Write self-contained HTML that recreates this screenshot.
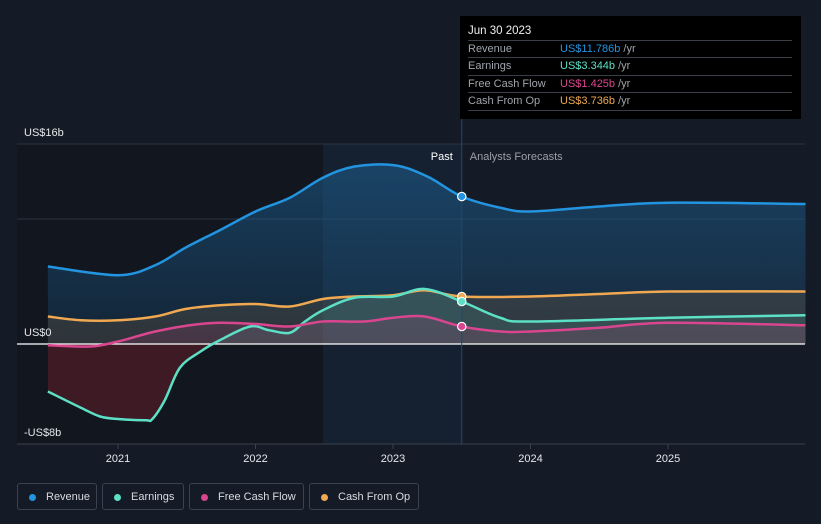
<!DOCTYPE html>
<html><head><meta charset="utf-8"><style>
body{margin:0;background:#151b26;font-family:"Liberation Sans",sans-serif;}
#wrap{position:relative;width:821px;height:524px;overflow:hidden;background:#151b26}
.tt{position:absolute;left:460px;top:16px;width:341px;height:103px;background:#000;color:#f0f0f0;font-size:11px}
.tt .h{position:absolute;left:8px;top:9px;font-size:11.5px}
.row{position:absolute;left:8px;width:324px;height:17px;border-top:1px solid #3a3f47;color:#a0a4ab;line-height:17px}
.row span.v{position:absolute;left:92px}
.row span.u{color:#a0a4ab}
.leg{position:absolute;top:483px;height:27px;border:1px solid #3a4150;border-radius:3px;color:#d8dbe0;font-size:11px;line-height:27px;box-sizing:border-box}
.leg i{position:absolute;left:11px;top:10px;width:7px;height:7px;border-radius:50%}
.leg span{position:absolute;left:28px}
</style></head><body>
<div id="wrap">
<svg id="chart" width="821" height="524" style="position:absolute;left:0;top:0"></svg>
<div class="tt">
 <div class="h">Jun 30 2023</div>
 <div class="row" style="top:24px">Revenue<span class="v"><span style="color:#2394df">US$11.786b</span> <span class="u">/yr</span></span></div>
 <div class="row" style="top:41px">Earnings<span class="v"><span style="color:#5ce0c6">US$3.344b</span> <span class="u">/yr</span></span></div>
 <div class="row" style="top:59px">Free Cash Flow<span class="v"><span style="color:#d9468f">US$1.425b</span> <span class="u">/yr</span></span></div>
 <div class="row" style="top:76px;border-bottom:1px solid #3a3f47">Cash From Op<span class="v"><span style="color:#f0a851">US$3.736b</span> <span class="u">/yr</span></span></div>
</div>
<div class="leg" style="left:17px;width:80px"><i style="background:#2394df"></i><span>Revenue</span></div>
<div class="leg" style="left:102px;width:82px"><i style="background:#5ce0c6"></i><span>Earnings</span></div>
<div class="leg" style="left:189px;width:115px"><i style="background:#d9468f"></i><span>Free Cash Flow</span></div>
<div class="leg" style="left:309px;width:110px"><i style="background:#f0a851"></i><span>Cash From Op</span></div>
</div>
<script>
const revT=[2020.49,2021,2021.27,2021.49,2021.74,2022,2022.25,2022.49,2022.72,2023.01,2023.25,2023.5,2023.78,2024,2024.5,2025,2026];
const revV=[6.2,5.5,6.3,7.7,9.1,10.6,11.7,13.3,14.2,14.3,13.4,11.8,10.9,10.6,11.0,11.3,11.2];
const earnT=[2020.49,2020.73,2020.87,2021,2021.2,2021.25,2021.34,2021.45,2021.6,2021.74,2021.96,2022.1,2022.25,2022.36,2022.49,2022.72,2023,2023.23,2023.5,2023.78,2024,2025,2026];
const earnV=[-3.8,-5.1,-5.8,-6.0,-6.1,-6.0,-4.5,-1.9,-0.6,0.3,1.4,1.1,0.9,1.8,2.7,3.7,3.8,4.4,3.4,2.1,1.8,2.1,2.3];
const fcfT=[2020.49,2020.8,2021,2021.27,2021.52,2021.74,2022,2022.25,2022.49,2022.79,2023,2023.23,2023.5,2023.78,2024,2024.5,2025,2026];
const fcfV=[-0.1,-0.2,0.2,1.0,1.5,1.7,1.6,1.4,1.8,1.8,2.1,2.2,1.4,1.0,1.0,1.3,1.7,1.5];
const cfoT=[2020.49,2020.73,2021,2021.27,2021.49,2021.74,2022,2022.25,2022.49,2022.72,2023,2023.23,2023.5,2024,2024.5,2025,2026];
const cfoV=[2.2,1.9,1.9,2.2,2.8,3.1,3.2,3.0,3.6,3.8,3.9,4.3,3.8,3.8,4.0,4.2,4.2];
const yTicks=[16,0,-8];
const yLabels=["US$16b","US$0","-US$8b"];
const xTicks=[2021,2022,2023,2024,2025];
const NOW=2023.5;
const X=t=>118+(t-2021)*137.5;
const Y=v=>344-v*12.5;
const NS="http://www.w3.org/2000/svg";
const svg=document.getElementById('chart');
function mk(tag,attrs,parent){const e=document.createElementNS(NS,tag);for(const k in attrs)e.setAttribute(k,attrs[k]);(parent||svg).appendChild(e);return e;}
svg.innerHTML='<defs><linearGradient id="gb" x1="0" y1="0" x2="0" y2="1"><stop offset="0" stop-color="#1d5f91" stop-opacity="0.55"/><stop offset="1" stop-color="#1d5f91" stop-opacity="0.2"/></linearGradient><clipPath id="above"><rect x="0" y="0" width="821" height="'+Y(0)+'"/></clipPath><clipPath id="below"><rect x="0" y="'+Y(0)+'" width="821" height="200"/></clipPath></defs>';
const past=mk('rect',{x:17,y:144,width:306,height:300,fill:'#11161f'});


const band=mk('rect',{x:323,y:144,width:X(NOW)-323,height:300,fill:'#152130'});


function path(T,V){const p=T.map((t,i)=>[X(t),Y(V[i])]);let d='M'+p[0][0]+','+p[0][1];
for(let i=0;i<p.length-1;i++){const p0=p[i-1]||p[i],p1=p[i],p2=p[i+1],p3=p[i+2]||p2;
d+=' C'+(p1[0]+(p2[0]-p0[0])/6)+','+(p1[1]+(p2[1]-p0[1])/6)+' '+(p2[0]-(p3[0]-p1[0])/6)+','+(p2[1]-(p3[1]-p1[1])/6)+' '+p2[0]+','+p2[1];}return d;}
function area(T,V){return path(T,V)+' L'+X(T[T.length-1])+','+Y(0)+' L'+X(T[0])+','+Y(0)+' Z';}
[16,10].forEach(v=>{const g=mk('line',{x1:17,x2:805,y1:Y(v),y2:Y(v),stroke:'#2c3340','stroke-width':1});

});
const series=[
 {T:revT,V:revV,c:'#2394df',fill:'url(#gb)',neg:'rgba(35,148,223,0.1)',n:'revenue'},
 {T:cfoT,V:cfoV,c:'#f0a851',fill:'rgba(240,168,81,0.12)',neg:'rgba(130,35,45,0.35)',n:'cash-from-op'},
 {T:earnT,V:earnV,c:'#5ce0c6',fill:'rgba(92,224,198,0.12)',neg:'rgba(130,35,45,0.4)',n:'earnings'},
 {T:fcfT,V:fcfV,c:'#d9468f',fill:'rgba(217,70,143,0.14)',neg:'rgba(130,35,45,0.35)',n:'free-cash-flow'}];
series.forEach(s=>{const a=mk('path',{d:area(s.T,s.V),fill:s.fill,stroke:'none','clip-path':'url(#above)'});


const b=mk('path',{d:area(s.T,s.V),fill:s.neg,stroke:'none','clip-path':'url(#below)'});

});
const zl=mk('line',{x1:17,x2:805,y1:Y(0),y2:Y(0),stroke:'#ffffff','stroke-width':1.2});


const ax=mk('line',{x1:17,x2:805,y1:Y(-8),y2:Y(-8),stroke:'#3a404c','stroke-width':1});


const nl=mk('line',{x1:X(NOW),x2:X(NOW),y1:16,y2:444,stroke:'#1e4a6a','stroke-width':1});


series.forEach(s=>{const l=mk('path',{d:path(s.T,s.V),fill:'none',stroke:s.c,'stroke-width':2.5});

});
series.forEach(s=>{const i=s.T.indexOf(NOW);const c=mk('circle',{cx:X(NOW),cy:Y(s.V[i]),r:4.2,fill:s.c,stroke:'#fff','stroke-width':1.2});

});
yTicks.forEach((v,i)=>{const t=mk('text',{x:24,y:Y(v)-8,fill:'#e4e6ea','font-size':11});t.textContent=yLabels[i];

});
xTicks.forEach(v=>{const tk=mk('line',{x1:X(v),x2:X(v),y1:444,y2:449,stroke:'#3a404c'});


const t=mk('text',{x:X(v),y:462,fill:'#e4e6ea','font-size':11,'text-anchor':'middle'});t.textContent=v;

});
const p1=mk('text',{x:X(NOW)-9,y:160,fill:'#ffffff','font-size':11,'text-anchor':'end'});p1.textContent='Past';


const p2=mk('text',{x:X(NOW)+8,y:160,fill:'#9a9fa8','font-size':11});p2.textContent='Analysts Forecasts';


</script>
</body></html>
